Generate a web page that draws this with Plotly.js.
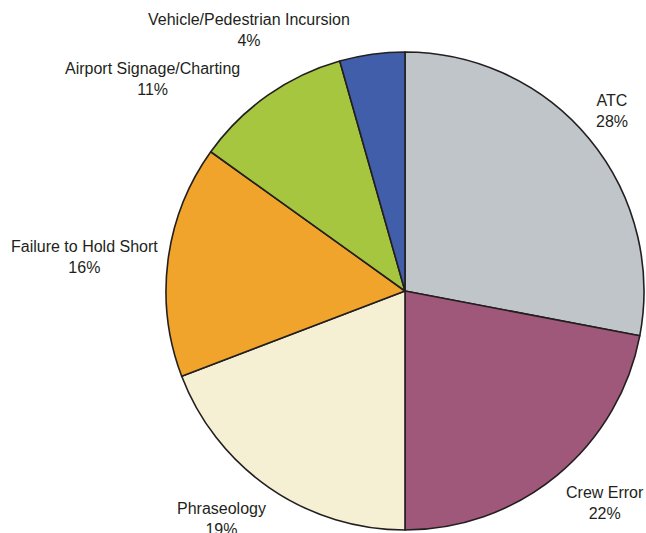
<!DOCTYPE html>
<html>
<head>
<meta charset="utf-8">
<script src="https://cdn.plot.ly/plotly-3.0.1.min.js"></script>
<style>html,body{margin:0;padding:0;background:#fff;}#chart{width:646px;height:533px;}</style>
</head>
<body>
<div id="chart"></div>
<script>
const categories = ["ATC", "Crew Error", "Phraseology", "Failure to Hold Short", "Airport Signage/Charting", "Vehicle/Pedestrian Incursion"];
const values = [28.0, 22.0, 19.2, 15.7, 10.7, 4.4];
const colors = ["#c0c5c9", "#a0587a", "#f5f0d3", "#f0a42b", "#a7c63f", "#405ea9"];
// label block centres in pixels (layout only)
const labelPx = [
  [612, 111],
  [605, 503],
  [221, 519],
  [84, 257],
  [152, 79],
  [249, 30]
];

const W = 646, H = 533, CX = 405, CY = 291, R = 239;
const total = values.reduce((a, b) => a + b, 0);

const trace = {
  type: "pie",
  labels: categories,
  values: values,
  sort: false,
  direction: "clockwise",
  rotation: 0,
  textinfo: "none",
  hoverinfo: "label+percent",
  marker: { colors: colors, line: { color: "#231f20", width: 1.6 } },
  domain: { x: [(CX - R) / W, (CX + R) / W], y: [(H - CY - R) / H, (H - CY + R) / H] },
  showlegend: false
};

const annotations = categories.map((c, i) => ({
  xref: "paper", yref: "paper",
  x: labelPx[i][0] / W, y: 1 - labelPx[i][1] / H,
  xanchor: "center", yanchor: "middle",
  text: c + "<br>" + Math.round(values[i] / total * 100) + "%",
  showarrow: false,
  align: "center",
  font: { family: "Liberation Sans, Arial, sans-serif", size: 16, color: "#231f20" }
}));

const layout = {
  width: W, height: H,
  margin: { l: 0, r: 0, t: 0, b: 0 },
  paper_bgcolor: "#fff",
  annotations: annotations,
  showlegend: false
};

Plotly.newPlot("chart", [trace], layout, { displayModeBar: false, staticPlot: true });
</script>
</body>
</html>
